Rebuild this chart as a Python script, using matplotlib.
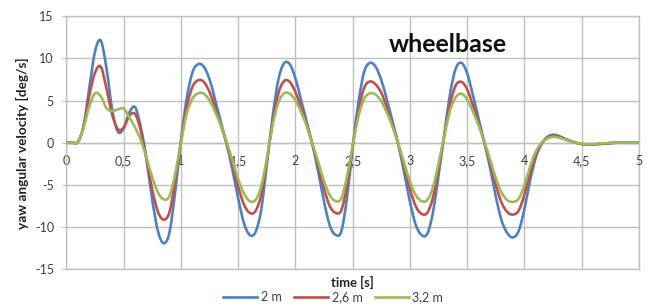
import matplotlib
matplotlib.use("Agg")
import matplotlib.pyplot as plt
from matplotlib.path import Path
from matplotlib.patches import PathPatch
from matplotlib.lines import Line2D
import numpy as np

plt.rcParams['font.family'] = ['Lato', 'DejaVu Sans']
plt.rcParams['axes.unicode_minus'] = False

time_s = [0.00, 0.05, 0.10, 0.15, 0.20, 0.25, 0.30, 0.35, 0.40, 0.45,
          0.50, 0.55, 0.60, 0.65, 0.70, 0.75, 0.80, 0.85, 0.90, 0.95,
          1.00, 1.05, 1.10, 1.15, 1.20, 1.25, 1.30, 1.35, 1.40, 1.45,
          1.50, 1.55, 1.60, 1.65, 1.70, 1.75, 1.80, 1.85, 1.90, 1.95,
          2.00, 2.05, 2.10, 2.15, 2.20, 2.25, 2.30, 2.35, 2.40, 2.45,
          2.50, 2.55, 2.60, 2.65, 2.70, 2.75, 2.80, 2.85, 2.90, 2.95,
          3.00, 3.05, 3.10, 3.15, 3.20, 3.25, 3.30, 3.35, 3.40, 3.45,
          3.50, 3.55, 3.60, 3.65, 3.70, 3.75, 3.80, 3.85, 3.90, 3.95,
          4.00, 4.05, 4.10, 4.15, 4.20, 4.25, 4.30, 4.35, 4.40, 4.45,
          4.50, 4.55, 4.60, 4.65, 4.70, 4.75, 4.80, 4.85, 4.90, 4.95,
          5.00]

wb_2_0 = [0, 0, 0.1, 2.0, 6.5, 10.8, 12.1, 8.8, 3.9, 1.3,
          1.7, 3.6, 4.2, 1.8, -2.0, -6.8, -10.5, -11.9, -10.6, -5.8,
          0.2, 5.2, 8.3, 9.3, 9.0, 7.5, 5.0, 2.4, -0.2, -3.2,
          -6.6, -9.5, -10.9, -10.6, -8.0, -2.6, 3.0, 7.4, 9.4, 9.3,
          7.6, 5.0, 2.4, -0.3, -3.5, -7.0, -9.8, -10.9, -10.5, -6.5,
          -0.5, 4.8, 8.4, 9.45, 9.0, 7.4, 5.0, 2.4, -0.3, -3.6,
          -7.0, -9.7, -10.9, -10.8, -8.3, -3.8, 1.0, 5.8, 8.8, 9.45,
          8.2, 5.6, 2.8, 0.0, -3.0, -6.4, -9.2, -10.7, -11.2, -10.4,
          -7.8, -4.4, -1.7, -0.1, 0.7, 0.95, 0.8, 0.5, 0.2, 0.0,
          -0.15, -0.2, -0.2, -0.15, -0.1, -0.05, 0, 0, 0, 0,
          0]

wb_2_6 = [0, 0, 0.1, 1.9, 5.6, 8.3, 9.0, 6.4, 3.3, 1.6,
          1.8, 3.2, 3.4, 1.4, -2.0, -5.6, -8.2, -9.1, -8.2, -4.5,
          0.1, 4.2, 6.6, 7.4, 7.2, 6.0, 4.1, 2.0, -0.1, -2.6,
          -5.2, -7.3, -8.3, -8.1, -6.2, -2.2, 2.4, 5.8, 7.3, 7.2,
          6.0, 4.1, 2.0, -0.3, -2.8, -5.5, -7.5, -8.3, -8.0, -5.0,
          -0.4, 3.8, 6.5, 7.25, 6.9, 5.9, 4.1, 2.0, -0.3, -2.9,
          -5.5, -7.5, -8.4, -8.3, -6.5, -3.0, 0.9, 4.6, 6.8, 7.2,
          6.3, 4.4, 2.3, 0.0, -2.4, -5.0, -7.1, -8.2, -8.5, -8.0,
          -6.1, -3.5, -1.4, -0.1, 0.6, 0.85, 0.75, 0.45, 0.2, 0.0,
          -0.15, -0.2, -0.2, -0.15, -0.1, -0.05, 0, 0, 0, 0,
          0]

wb_3_2 = [0, 0, 0.1, 1.8, 4.3, 5.85, 5.5, 4.1, 3.75, 3.95,
          4.05, 3.0, 1.8, 0.3, -1.8, -4.1, -5.9, -6.7, -6.3, -3.7,
          0.0, 3.4, 5.2, 5.85, 5.8, 5.0, 3.6, 2.0, 0.1, -2.1,
          -4.3, -6.0, -6.9, -6.8, -5.2, -1.9, 2.0, 4.7, 5.85, 5.8,
          5.0, 3.6, 1.9, -0.2, -2.3, -4.6, -6.2, -6.9, -6.6, -4.0,
          -0.3, 3.1, 5.2, 5.85, 5.7, 4.9, 3.5, 1.8, -0.2, -2.4,
          -4.6, -6.2, -6.9, -6.8, -5.3, -2.4, 0.8, 3.8, 5.4, 5.8,
          5.1, 3.7, 2.0, 0.1, -2.0, -4.2, -5.9, -6.8, -7.0, -6.6,
          -5.0, -2.8, -1.0, 0.0, 0.5, 0.7, 0.6, 0.4, 0.15, 0.0,
          -0.1, -0.15, -0.15, -0.1, -0.05, 0, 0, 0, 0, 0,
          0]

series_labels = ["2 m", "2,6 m", "3,2 m"]
series_colors = ["#4F81BD", "#C0504D", "#9BBB59"]

x_ticks = [0, 0.5, 1, 1.5, 2, 2.5, 3, 3.5, 4, 4.5, 5]
x_tick_labels = ["0", "0,5", "1", "1,5", "2", "2,5", "3", "3,5", "4", "4,5", "5"]
y_ticks = [-15, -10, -5, 0, 5, 10, 15]


def smooth_path(x, y):
    """Smoothed-line rendering (like a spreadsheet 'smoothed line'):
    cubic Bezier segments through every data point."""
    x = np.asarray(x, float)
    y = np.asarray(y, float)
    pts = np.column_stack([x, y])
    n = len(pts)
    verts = [pts[0]]
    codes = [Path.MOVETO]
    for i in range(n - 1):
        p0 = pts[i - 1] if i > 0 else pts[i]
        p1 = pts[i]
        p2 = pts[i + 1]
        p3 = pts[i + 2] if i + 2 < n else pts[i + 1]
        c1 = p1 + (p2 - p0) / 6.0
        c2 = p2 - (p3 - p1) / 6.0
        verts += [c1, c2, p2]
        codes += [Path.CURVE4] * 3
    return Path(verts, codes)


fig = plt.figure(figsize=(6.51, 3.06), dpi=100)
ax = fig.add_axes([0.102, 0.1193, 0.8796, 0.8284])

grid_c = "#BFBFBF"
text_c = "#404040"

handles = []
for y, lab, col in zip([wb_2_0, wb_2_6, wb_3_2], series_labels, series_colors):
    patch = PathPatch(smooth_path(time_s, y), facecolor="none", edgecolor=col,
                      lw=1.9, joinstyle="round", capstyle="round", zorder=3)
    ax.add_patch(patch)
    handles.append(Line2D([], [], color=col, lw=1.9, label=lab))

ax.set_xlim(0, 5)
ax.set_ylim(-15, 15)
ax.set_xticks(x_ticks)
ax.set_xticklabels(x_tick_labels)
ax.set_yticks(y_ticks)
ax.grid(True, color=grid_c, lw=1.0, zorder=0)
ax.set_axisbelow(True)

for s in ["top", "right"]:
    ax.spines[s].set_visible(False)
ax.spines["bottom"].set_position(("data", 0))
ax.spines["bottom"].set_color(grid_c)
ax.spines["left"].set_color(grid_c)
ax.spines["left"].set_linewidth(1.0)
ax.spines["bottom"].set_linewidth(1.0)
ax.spines["bottom"].set_zorder(0.5)

ax.tick_params(axis="y", length=3, color=grid_c, pad=6, labelsize=9, labelcolor=text_c)
ax.tick_params(axis="x", length=0, pad=9, labelsize=9, labelcolor=text_c)

ax.axhline(15, color=grid_c, lw=1.0, zorder=0, clip_on=False)
ax.axhline(-15, color=grid_c, lw=1.0, zorder=0, clip_on=False)
ax.axvline(5, color=grid_c, lw=1.0, zorder=0, clip_on=False)

ax.set_ylabel("yaw angular velocity [deg/s]", fontsize=9.8, fontweight="bold", color="#222222", labelpad=4)
fig.text(0.5415, 0.078, "time [s]", fontsize=9.3, fontweight="bold", color="#222222", ha="center", va="center")

ax.text(3.333, 11.6, "wheelbase", fontsize=18, fontweight="bold", color="#111111", ha="center", va="center")

leg = fig.legend(handles=handles, labels=series_labels, loc="center", bbox_to_anchor=(0.512, 0.028),
                 ncol=3, frameon=False, fontsize=9, handlelength=2.7, handletextpad=0.3,
                 columnspacing=1.0, borderpad=0.1)
for t in leg.get_texts():
    t.set_color(text_c)

fig.savefig("out.png", dpi=100, facecolor="white")
